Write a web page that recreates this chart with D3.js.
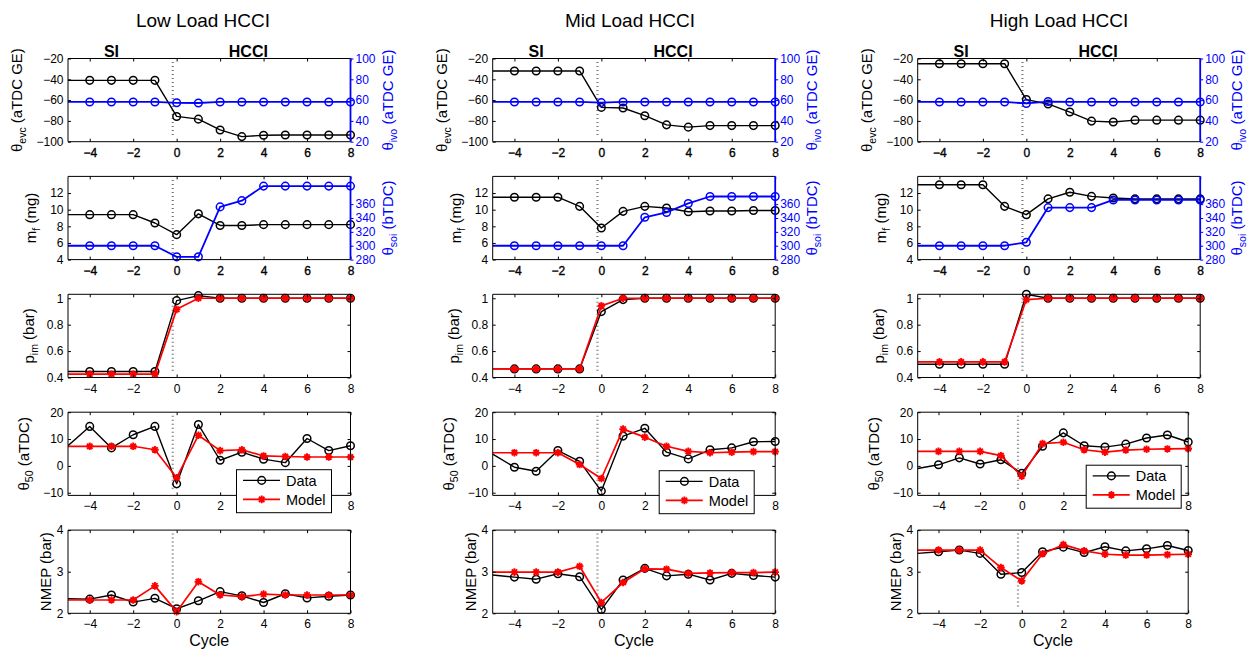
<!DOCTYPE html>
<html>
<head>
<meta charset="utf-8">
<script src="https://cdn.jsdelivr.net/npm/d3@7"></script>
<style>
  body { margin: 0; background: #fff; }
  svg { display: block; font-family: "Liberation Sans", Arial, Helvetica, sans-serif; }
</style>
</head>
<body>
<svg id="chart" width="1252" height="650"></svg>
<script>
// ---- data ---------------------------------------------------------------
// Cycle index relative to the SI -> HCCI mode switch (cycle -5 only feeds the line into the frame)
const cycles = [-5, -4, -3, -2, -1, 0, 1, 2, 3, 4, 5, 6, 7, 8];
const loadTitles = ["Low Load HCCI", "Mid Load HCCI", "High Load HCCI"];
const xTicks = [-4, -2, 0, 2, 4, 6, 8];
const switchCycle = -0.18;

// Exhaust valve closing (deg aTDC GE), left axis of the top row
const evcLow  = [-41, -41, -41, -41, -41, -75.7, -78.3, -88.7, -95.1, -93.8, -93.5, -93.5, -93.5, -93.5];
const evcMid  = [-32, -32, -32, -32, -32, -67, -67.6, -75, -83.8, -86, -84.5, -84.5, -84.5, -84.5];
const evcHigh = [-25, -25, -25, -25, -25, -59.5, -63.7, -71.5, -80.2, -81, -79.3, -79.3, -79.3, -79.3];

// Intake valve opening (deg aTDC GE), right axis of the top row
const ivoLow  = [58.2, 58.2, 58.2, 58.2, 58.2, 57.4, 57.2, 58.2, 58.2, 58.2, 58.2, 58.2, 58.2, 58.2];
const ivoMid  = [58.2, 58.2, 58.2, 58.2, 58.2, 57.6, 58.2, 58.2, 58.2, 58.2, 58.2, 58.2, 58.2, 58.2];
const ivoHigh = [58.2, 58.2, 58.2, 58.2, 58.2, 56.8, 58.6, 58.2, 58.2, 58.2, 58.2, 58.2, 58.2, 58.2];

// Fuel mass (mg), left axis of the second row
const mfLow  = [9.4, 9.4, 9.4, 9.4, 8.4, 7.0, 9.5, 8.1, 8.1, 8.2, 8.2, 8.2, 8.2, 8.2];
const mfMid  = [11.5, 11.5, 11.5, 11.5, 10.4, 7.8, 9.8, 10.4, 10.2, 9.75, 9.85, 9.85, 9.9, 9.9];
const mfHigh = [13, 13, 13, 13, 10.4, 9.4, 11.3, 12.1, 11.6, 11.4, 11.3, 11.3, 11.3, 11.3];

// Start of injection (deg bTDC), right axis of the second row
const soiLow  = [300, 300, 300, 300, 300, 284, 284, 356, 365, 386, 386, 386, 386, 386];
const soiMid  = [300, 300, 300, 300, 300, 300, 300, 341, 348, 361, 371, 371, 371, 371];
const soiHigh = [300, 300, 300, 300, 300, 305, 355, 355, 355, 366, 366, 366, 366, 366];

// Intake manifold pressure (bar)
const pimDataLow   = [0.445, 0.445, 0.445, 0.445, 0.445, 0.982, 1.02, 1, 1, 1, 1, 1, 1, 1];
const pimModelLow  = [0.425, 0.425, 0.425, 0.425, 0.425, 0.916, 1, 1, 1, 1, 1, 1, 1, 1];
const pimDataMid   = [0.465, 0.465, 0.465, 0.465, 0.465, 0.899, 0.99, 1, 1, 1, 1, 1, 1, 1];
const pimModelMid  = [0.465, 0.465, 0.465, 0.465, 0.465, 0.942, 1, 1, 1, 1, 1, 1, 1, 1];
const pimDataHigh  = [0.5, 0.5, 0.5, 0.5, 0.5, 1.03, 1, 1, 1, 1, 1, 1, 1, 1];
const pimModelHigh = [0.518, 0.518, 0.518, 0.518, 0.518, 0.99, 1, 1, 1, 1, 1, 1, 1, 1];

// Combustion phasing theta_50 (deg aTDC)
const ca50DataLow   = [7.5, 14.7, 6.7, 11.6, 14.7, -6.7, 15.4, 2.1, 5.1, 2.5, 1.2, 10.2, 5.7, 7.5];
const ca50ModelLow  = [7.3, 7.3, 7.3, 7.3, 6.0, -4.4, 11.4, 5.7, 6.0, 3.7, 3.5, 3.3, 3.3, 3.3];
const ca50DataMid   = [4.4, -0.5, -2.0, 5.7, 1.7, -9.4, 11.1, 14.0, 5.1, 2.6, 6.0, 6.7, 9.0, 9.1];
const ca50ModelMid  = [4.9, 4.9, 4.9, 4.9, 0.5, -4.7, 13.7, 10.7, 7.3, 5.4, 4.9, 5.1, 5.3, 5.3];
const ca50DataHigh  = [-1.0, 0.4, 3.0, 0.7, 2.3, -2.8, 7.3, 12.3, 7.5, 7.0, 8.1, 10.4, 11.5, 8.9];
const ca50ModelHigh = [5.4, 5.4, 5.4, 5.4, 3.8, -3.8, 8.3, 8.8, 6.0, 5.1, 5.9, 6.2, 6.3, 6.4];

// Net mean effective pressure (bar)
const nmepDataLow   = [2.35, 2.34, 2.44, 2.27, 2.36, 2.11, 2.30, 2.52, 2.42, 2.26, 2.47, 2.37, 2.41, 2.44];
const nmepModelLow  = [2.32, 2.32, 2.32, 2.32, 2.66, 2.04, 2.76, 2.44, 2.40, 2.46, 2.44, 2.44, 2.44, 2.44];
const nmepDataMid   = [2.92, 2.87, 2.82, 2.95, 2.88, 2.09, 2.80, 3.08, 2.90, 2.94, 2.80, 2.96, 2.91, 2.87];
const nmepModelMid  = [2.99, 2.99, 2.99, 2.99, 3.13, 2.26, 2.74, 3.07, 3.06, 2.96, 2.97, 2.98, 2.98, 2.99];
const nmepDataHigh  = [3.44, 3.48, 3.52, 3.44, 2.94, 2.98, 3.48, 3.59, 3.46, 3.60, 3.50, 3.55, 3.63, 3.51];
const nmepModelHigh = [3.52, 3.52, 3.52, 3.52, 3.10, 2.78, 3.43, 3.65, 3.50, 3.42, 3.40, 3.40, 3.41, 3.42];

// Axis limits and ticks per row
const evcDomain = [-100, -20], evcTicks = [-100, -80, -60, -40, -20];
const ivoDomain = [20, 100],   ivoTicks = [20, 40, 60, 80, 100];
const mfDomain = [4, 14],      mfTicks = [4, 6, 8, 10, 12];
const soiDomain = [280, 400],  soiTicks = [280, 300, 320, 340, 360];
const pimDomain = [0.4, 1.03], pimTicks = [0.4, 0.6, 0.8, 1];
const ca50Domain = [-11, 20],  ca50Ticks = [-10, 0, 10, 20];
const nmepDomain = [2, 4],     nmepTicks = [2, 3, 4];
const legendLabels = ["Data", "Model"];

// ---- layout ---------------------------------------------------------------
const xDomain = [-5, 8];
const colLeft = [68, 492.7, 917.7];
const titleX = [203, 630, 1059];
const rowTop = [58.5, 176.4, 294.3, 412.2, 530.1];
const panelH = 83.2;
const panelW = 282.5;
const narrowW = 270.5;
const leftLabelOffset = [-46, -32, -34, -39, -17];
const legendPos = [[168, 57], [166, 58], [168, 52.5]];
const legendW = 95, legendH = 43;

const BLACK = "#000", RED = "#ff0000", BLUE = "#0000ff";
const fmt = d3.format("~g");
const svg = d3.select("#chart");

const loads = [
  { evc: evcLow, ivo: ivoLow, mf: mfLow, soi: soiLow, pimD: pimDataLow, pimM: pimModelLow,
    caD: ca50DataLow, caM: ca50ModelLow, nD: nmepDataLow, nM: nmepModelLow },
  { evc: evcMid, ivo: ivoMid, mf: mfMid, soi: soiMid, pimD: pimDataMid, pimM: pimModelMid,
    caD: ca50DataMid, caM: ca50ModelMid, nD: nmepDataMid, nM: nmepModelMid },
  { evc: evcHigh, ivo: ivoHigh, mf: mfHigh, soi: soiHigh, pimD: pimDataHigh, pimM: pimModelHigh,
    caD: ca50DataHigh, caM: ca50ModelHigh, nD: nmepDataHigh, nM: nmepModelHigh }
];

function starPath(r) {
  const d = r * 0.7071;
  return `M${-r},0L${r},0M0,${-r}L0,${r}M${-d},${-d}L${d},${d}M${-d},${d}L${d},${-d}`;
}

function drawMarker(sel, kind, color) {
  if (kind === "circle") {
    sel.append("circle").attr("r", 3.8).attr("fill", "none")
      .attr("stroke", color).attr("stroke-width", 1.5);
  } else {
    sel.append("path").attr("d", starPath(3.8)).attr("fill", "none")
      .attr("stroke", color).attr("stroke-width", 1.9);
  }
}

function drawSeries(g, x, y, values, color, marker, clipId, width) {
  const pts = cycles.map((c, i) => ({ c, v: values[i] }));
  g.append("path").datum(pts)
    .attr("clip-path", `url(#${clipId})`)
    .attr("fill", "none").attr("stroke", color).attr("stroke-width", width)
    .attr("stroke-linejoin", "round")
    .attr("d", d3.line().x(d => x(d.c)).y(d => y(d.v)));
  const shown = pts.filter(d => d.c > xDomain[0]);
  g.append("g").selectAll("g").data(shown).join("g")
    .attr("transform", d => `translate(${x(d.c)},${y(d.v)})`)
    .each(function () { drawMarker(d3.select(this), marker, color); });
}

function styleAxis(gAx, color, extraStroke) {
  gAx.attr("font-size", null).attr("font-family", null);
  gAx.selectAll(".domain").remove();
  gAx.selectAll("line").attr("stroke", color).attr("stroke-width", 1);
  gAx.selectAll("text").attr("fill", color).style("font-size", "12px");
  if (extraStroke) gAx.selectAll("text").attr("stroke", color).attr("stroke-width", 0.35);
}

function axisLabel(g, x, y, parts, color) {
  const t = g.append("text")
    .attr("transform", `translate(${x},${y}) rotate(-90)`)
    .attr("text-anchor", "middle").attr("fill", color).style("font-size", "15px");
  t.append("tspan").text(parts[0]);
  if (parts[1]) {
    t.append("tspan").attr("dy", 4).style("font-size", "10.5px").text(parts[1]);
    t.append("tspan").attr("dy", -4).text(parts[2]);
  } else {
    t.append("tspan").text(parts[2]);
  }
}

function drawPanel(col, row, spec) {
  const x0 = colLeft[col], y0 = rowTop[row];
  const w = (col === 2 && row >= 3) ? narrowW : panelW;
  const g = svg.append("g").attr("transform", `translate(${x0},${y0})`);
  const x = d3.scaleLinear().domain(xDomain).range([0, w]);
  const yL = d3.scaleLinear().domain(spec.leftDomain).range([panelH, 0]);
  const yR = spec.right ? d3.scaleLinear().domain(spec.right.domain).range([panelH, 0]) : null;
  const clipId = `clip-${col}-${row}`;
  g.append("clipPath").attr("id", clipId)
    .append("rect").attr("width", w).attr("height", panelH);

  // mode switch marker
  g.append("line")
    .attr("x1", x(switchCycle)).attr("x2", x(switchCycle))
    .attr("y1", 3.5).attr("y2", panelH - 4)
    .attr("stroke", "#7a7a7a").attr("stroke-width", 2.2).attr("stroke-dasharray", "1,3");

  spec.left.forEach(s => drawSeries(g, x, yL, s.values, s.color, s.marker, clipId, s.width));
  if (spec.right) spec.right.series.forEach(s => drawSeries(g, x, yR, s.values, s.color, s.marker, clipId, s.width));

  const dual = !!spec.right;

  // x axes (bottom labelled, top ticks only)
  const gB = g.append("g").attr("transform", `translate(0,${panelH})`)
    .call(d3.axisBottom(x).tickValues(xTicks).tickSize(-3).tickPadding(6.5).tickFormat(fmt));
  styleAxis(gB, BLACK, dual);
  const gT = g.append("g").call(d3.axisTop(x).tickValues(xTicks).tickSize(-3).tickFormat(""));
  styleAxis(gT, BLACK);

  // left axis
  const gL = g.append("g")
    .call(d3.axisLeft(yL).tickValues(spec.leftTicks).tickSize(-3).tickPadding(4.5).tickFormat(fmt));
  styleAxis(gL, BLACK);

  if (dual) {
    const gR = g.append("g").attr("transform", `translate(${w},0)`)
      .call(d3.axisRight(yR).tickValues(spec.right.ticks).tickSize(3).tickPadding(2).tickFormat(fmt));
    styleAxis(gR, BLUE);
  } else {
    const gR = g.append("g").attr("transform", `translate(${w},0)`)
      .call(d3.axisRight(yL).tickValues(spec.leftTicks).tickSize(-3).tickFormat(""));
    styleAxis(gR, BLACK);
  }

  // frame
  g.append("path").attr("d", `M${w},0H0V${panelH}H${w}`)
    .attr("fill", "none").attr("stroke", BLACK).attr("stroke-width", 1);
  g.append("line").attr("x1", w).attr("x2", w).attr("y1", 0).attr("y2", panelH)
    .attr("stroke", dual ? BLUE : BLACK).attr("stroke-width", dual ? 1.8 : 1);

  // axis titles
  axisLabel(g, leftLabelOffset[row], panelH / 2, spec.leftLabel, BLACK);
  if (dual) axisLabel(g, w + 42, panelH / 2, spec.right.label, BLUE);

  return { g, x, yL, w, gB };
}

loads.forEach((L, col) => {
  // column title
  svg.append("text").attr("x", titleX[col]).attr("y", 26.7)
    .attr("text-anchor", "middle").style("font-size", "19px").attr("fill", BLACK)
    .text(loadTitles[col]);

  // row 1: valve timings
  const p0 = drawPanel(col, 0, {
    leftDomain: evcDomain, leftTicks: evcTicks, leftLabel: ["θ", "evc", " (aTDC GE)"],
    left: [{ values: L.evc, color: BLACK, marker: "circle", width: 1.4 }],
    right: { domain: ivoDomain, ticks: ivoTicks, label: ["θ", "ivo", " (aTDC GE)"],
             series: [{ values: L.ivo, color: BLUE, marker: "circle", width: 1.8 }] }
  });
  [["SI", -3], ["HCCI", 3.3]].forEach(([txt, c]) => {
    p0.g.append("text").attr("x", p0.x(c)).attr("y", -1.8)
      .attr("text-anchor", "middle").style("font-size", "16px").style("font-weight", "bold")
      .attr("fill", BLACK).text(txt);
  });

  // row 2: fuel mass and injection timing
  drawPanel(col, 1, {
    leftDomain: mfDomain, leftTicks: mfTicks, leftLabel: ["m", "f", " (mg)"],
    left: [{ values: L.mf, color: BLACK, marker: "circle", width: 1.4 }],
    right: { domain: soiDomain, ticks: soiTicks, label: ["θ", "soi", " (bTDC)"],
             series: [{ values: L.soi, color: BLUE, marker: "circle", width: 1.8 }] }
  });

  // row 3: intake manifold pressure
  drawPanel(col, 2, {
    leftDomain: pimDomain, leftTicks: pimTicks, leftLabel: ["p", "im", " (bar)"],
    left: [{ values: L.pimD, color: BLACK, marker: "circle", width: 1.4 },
           { values: L.pimM, color: RED, marker: "star", width: 1.7 }]
  });

  // row 4: combustion phasing with legend
  const p3 = drawPanel(col, 3, {
    leftDomain: ca50Domain, leftTicks: ca50Ticks, leftLabel: ["θ", "50", " (aTDC)"],
    left: [{ values: L.caD, color: BLACK, marker: "circle", width: 1.4 },
           { values: L.caM, color: RED, marker: "star", width: 1.7 }]
  });
  const [lx, ly] = legendPos[col];
  // tick labels sitting under the legend box are hidden by it
  p3.gB.selectAll(".tick").filter(d => p3.x(d) > lx - 4 && p3.x(d) < lx + legendW + 4)
    .select("text").remove();
  const lg = p3.g.append("g").attr("transform", `translate(${lx},${ly})`);
  lg.append("rect").attr("x", 0.5).attr("y", 0.5).attr("width", legendW).attr("height", legendH)
    .attr("fill", "#fff").attr("stroke", BLACK).attr("stroke-width", 1);
  [[BLACK, "circle", 1.4], [RED, "star", 1.7]].forEach(([c, m, sw], i) => {
    const cy = 11.2 + i * 19;
    lg.append("line").attr("x1", 7).attr("x2", 44).attr("y1", cy).attr("y2", cy)
      .attr("stroke", c).attr("stroke-width", sw);
    drawMarker(lg.append("g").attr("transform", `translate(25.7,${cy})`), m, c);
    lg.append("text").attr("x", 50).attr("y", cy + 5.2)
      .style("font-size", "14.5px").attr("fill", BLACK).text(legendLabels[i]);
  });

  // row 5: NMEP
  const p4 = drawPanel(col, 4, {
    leftDomain: nmepDomain, leftTicks: nmepTicks, leftLabel: ["NMEP", "", " (bar)"],
    left: [{ values: L.nD, color: BLACK, marker: "circle", width: 1.4 },
           { values: L.nM, color: RED, marker: "star", width: 1.7 }]
  });
  p4.g.append("text").attr("x", p4.w / 2).attr("y", panelH + 33)
    .attr("text-anchor", "middle").style("font-size", "16px").attr("fill", BLACK).text("Cycle");
});
</script>
</body>
</html>
